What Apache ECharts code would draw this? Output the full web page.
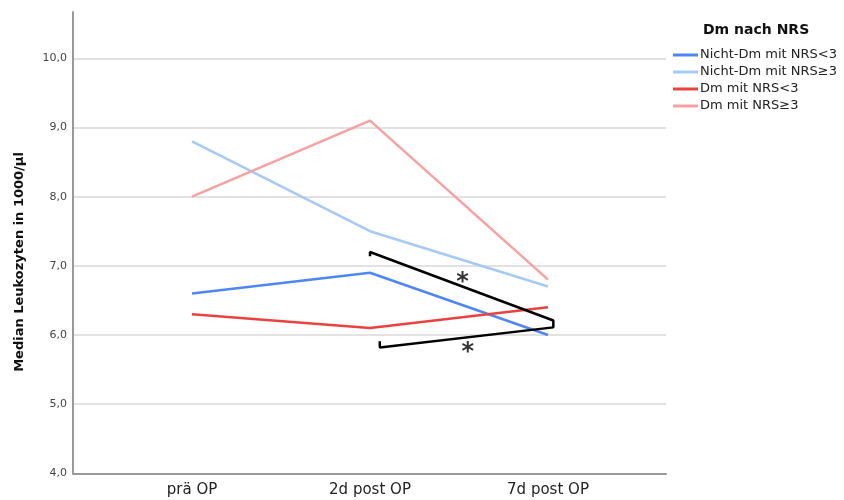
<!DOCTYPE html>
<html>
<head>
<meta charset="utf-8">
<script src="https://cdn.jsdelivr.net/npm/echarts@6/dist/echarts.min.js"></script>
<style>
	html, body { margin: 0; padding: 0; background: #fff; }
	#chart { width: 844px; height: 500px; }
</style>
</head>
<body>
<div id="chart"></div>
<script>
// Zeitpunkte
var categories = ['prä OP', '2d post OP', '7d post OP'];

// Median Leukozyten je Gruppe
var nichtDmNrsLow = [6.6, 6.9, 6.0];
var nichtDmNrsHigh = [8.8, 7.5, 6.7];
var dmNrsLow = [6.3, 6.1, 6.4];
var dmNrsHigh = [8.0, 9.1, 6.8];

var seriesNames = ['Nicht-Dm mit NRS<3', 'Nicht-Dm mit NRS≥3', 'Dm mit NRS<3', 'Dm mit NRS≥3'];
var seriesColors = ['#4f86f5', '#a6caf6', '#e9423f', '#f7a1a1'];

// Signifikanz-Klammer (x = Zeitpunkt-Index, y = Wert)
var bracketX = [1.0, 1.0, 2.03, 2.03, 1.055, 1.055];
var bracketY = [7.14, 7.2, 6.21, 6.11, 5.82, 5.91];
var starX = [1.52, 1.55];
var starY = [6.84, 5.83];

var yMin = 4;
var yMax = 10.67;
var xMax = 2.1;

function fmt(v) {
	return v.toFixed(1).replace('.', ',');
}

function pairs(xs, ys) {
	var out = [];
	for (var i = 0; i < ys.length; i++) {
		out.push([xs[i], ys[i]]);
	}
	return out;
}

var idx = [0, 1, 2];
var groups = [nichtDmNrsLow, nichtDmNrsHigh, dmNrsLow, dmNrsHigh];

var series = [];
for (var g = 0; g < groups.length; g++) {
	series.push({
		name: seriesNames[g],
		type: 'line',
		xAxisIndex: 1,
		yAxisIndex: 1,
		symbol: 'none',
		color: seriesColors[g],
		lineStyle: { width: 2.5, color: seriesColors[g] },
		data: pairs(idx, groups[g])
	});
}

// Klammer mit Sternchen
series.push({
	name: 'bracket',
	type: 'line',
	xAxisIndex: 1,
	yAxisIndex: 1,
	symbol: 'none',
	clip: false,
	lineStyle: { width: 2.5, color: '#000' },
	data: pairs(bracketX, bracketY),
	z: 5
});

series.push({
	name: 'stars',
	type: 'scatter',
	xAxisIndex: 1,
	yAxisIndex: 1,
	symbolSize: 0,
	clip: false,
	label: {
		show: true,
		position: 'inside',
		formatter: '*',
		fontSize: 24,
		fontWeight: 'bold',
		fontFamily: 'DejaVu Sans',
		color: '#000',
		offset: [0, 6]
	},
	data: pairs(starX, starY),
	z: 6
});

var chart = echarts.init(document.getElementById('chart'));
chart.setOption({
	animation: false,
	textStyle: { fontFamily: 'DejaVu Sans' },
	title: {
		text: 'Dm nach NRS',
		left: 698,
		top: 18,
		textStyle: { fontSize: 14, fontWeight: 'bold', color: '#111', fontFamily: 'DejaVu Sans' }
	},
	legend: {
		orient: 'vertical',
		left: 668,
		top: 43,
		data: seriesNames,
		icon: 'rect',
		itemWidth: 25,
		itemHeight: 3,
		itemGap: 3,
		textStyle: { fontSize: 13, color: '#222', lineHeight: 14, padding: [0, 0, 0, -3] }
	},
	graphic: [{
		type: 'text',
		x: 20,
		y: 262,
		rotation: Math.PI / 2,
		style: {
			text: 'Median Leukozyten in 1000/µl',
			fontSize: 13,
			fontWeight: 'bold',
			fill: '#111',
			fontFamily: 'DejaVu Sans',
			align: 'center',
			verticalAlign: 'middle'
		}
	}],
	grid: [
		{ left: 73, top: 12, width: 593, bottom: 26.7 },
		{ left: 192, top: 12, width: 356 * xMax / 2, bottom: 26.7 }
	],
	xAxis: [{
		type: 'value',
		gridIndex: 0,
		min: 0,
		max: 1,
		axisLine: { show: true, onZero: false, lineStyle: { color: '#999', width: 2 } },
		axisTick: { show: false },
		axisLabel: { show: false },
		splitLine: { show: false }
	}, {
		type: 'value',
		gridIndex: 1,
		min: 0,
		max: xMax,
		interval: 1,
		axisLine: { show: false },
		axisTick: { show: false },
		splitLine: { show: false },
		axisLabel: {
			showMaxLabel: false,
			margin: 9,
			fontSize: 15,
			color: '#222',
			formatter: function(v) { return categories[v] || ''; }
		}
	}],
	yAxis: [{
		type: 'value',
		gridIndex: 0,
		min: yMin,
		max: yMax,
		interval: 1,
		axisLine: { show: true, lineStyle: { color: '#999', width: 2 } },
		axisTick: { show: false },
		axisLabel: {
			showMaxLabel: false,
			fontSize: 11,
			color: '#444',
			margin: 6,
			formatter: function(v) { return fmt(v); }
		},
		splitLine: { show: true, showMaxLine: false, lineStyle: { color: '#d8d8d8', width: 1.5 } }
	}, {
		type: 'value',
		gridIndex: 1,
		min: yMin,
		max: yMax,
		show: false,
		splitLine: { show: false }
	}],
	series: series
});
</script>
</body>
</html>
